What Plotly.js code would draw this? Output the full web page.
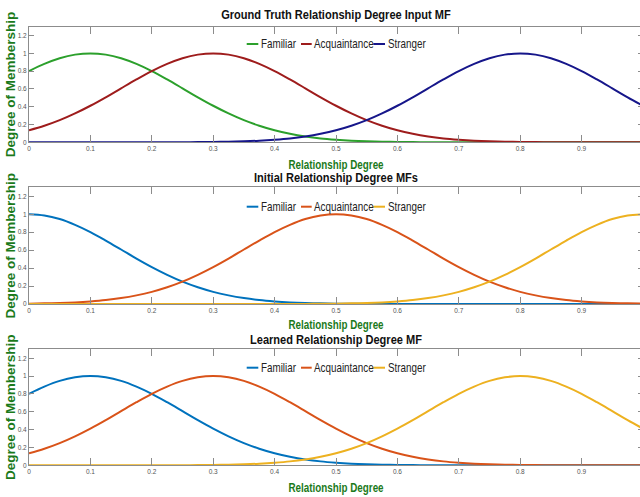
<!DOCTYPE html>
<html><head><meta charset="utf-8">
<script src="https://cdn.plot.ly/plotly-3.0.1.min.js"></script>
<style>html,body{margin:0;padding:0;overflow:hidden;background:#fff}#chart{width:643px;height:497px}</style>
</head><body><div id="chart"></div>
<script>
// ---------- DATA ----------
const xValues = [0,0.025,0.05,0.075,0.1,0.125,0.15,0.175,0.2,0.225,0.25,0.275,0.3,0.325,0.35,0.375,0.4,0.425,0.45,0.475,0.5,0.525,0.55,0.575,0.6,0.625,0.65,0.675,0.7,0.725,0.75,0.775,0.8,0.825,0.85,0.875,0.9,0.925,0.95,0.975,1];

const seriesNames = ["Familiar","Acquaintance","Stranger"];
const panelTitles = ["Ground Truth Relationship Degree Input MF","Initial Relationship Degree MFs","Learned Relationship Degree MF"];
const xAxisTitle = "Relationship Degree";
const yAxisTitle = "Degree of Membership";

const truthFamiliar = [0.801,0.882,0.946,0.986,1,0.986,0.946,0.882,0.801,0.707,0.607,0.506,0.411,0.325,0.249,0.186,0.135,0.096,0.066,0.044,0.029,0.018,0.011,0.007,0.004,0.002,0.001,0,0,0,0,0,0,0,0,0,0,0,0,0,0];
const truthAcquaintance = [0.135,0.186,0.249,0.325,0.411,0.506,0.607,0.707,0.801,0.882,0.946,0.986,1,0.986,0.946,0.882,0.801,0.707,0.607,0.506,0.411,0.325,0.249,0.186,0.135,0.096,0.066,0.044,0.029,0.018,0.011,0.007,0.004,0.002,0.001,0,0,0,0,0,0];
const truthStranger = [0,0,0,0,0,0,0,0,0,0,0.001,0.002,0.004,0.007,0.011,0.018,0.029,0.044,0.066,0.096,0.135,0.186,0.249,0.325,0.411,0.506,0.607,0.707,0.801,0.882,0.946,0.986,1,0.986,0.946,0.882,0.801,0.707,0.607,0.506,0.411];

const initialFamiliar = [1,0.986,0.946,0.882,0.801,0.707,0.607,0.506,0.411,0.325,0.249,0.186,0.135,0.096,0.066,0.044,0.029,0.018,0.011,0.007,0.004,0.002,0.001,0,0,0,0,0,0,0,0,0,0,0,0,0,0,0,0,0,0];
const initialAcquaintance = [0.004,0.007,0.011,0.018,0.029,0.044,0.066,0.096,0.135,0.186,0.249,0.325,0.411,0.506,0.607,0.707,0.801,0.882,0.946,0.986,1,0.986,0.946,0.882,0.801,0.707,0.607,0.506,0.411,0.325,0.249,0.186,0.135,0.096,0.066,0.044,0.029,0.018,0.011,0.007,0.004];
const initialStranger = [0,0,0,0,0,0,0,0,0,0,0,0,0,0,0,0,0,0,0.001,0.002,0.004,0.007,0.011,0.018,0.029,0.044,0.066,0.096,0.135,0.186,0.249,0.325,0.411,0.506,0.607,0.707,0.801,0.882,0.946,0.986,1];

const learnedFamiliar = [0.801,0.882,0.946,0.986,1,0.986,0.946,0.882,0.801,0.707,0.607,0.506,0.411,0.325,0.249,0.186,0.135,0.096,0.066,0.044,0.029,0.018,0.011,0.007,0.004,0.002,0.001,0,0,0,0,0,0,0,0,0,0,0,0,0,0];
const learnedAcquaintance = [0.135,0.186,0.249,0.325,0.411,0.506,0.607,0.707,0.801,0.882,0.946,0.986,1,0.986,0.946,0.882,0.801,0.707,0.607,0.506,0.411,0.325,0.249,0.186,0.135,0.096,0.066,0.044,0.029,0.018,0.011,0.007,0.004,0.002,0.001,0,0,0,0,0,0];
const learnedStranger = [0,0,0,0,0,0,0,0,0,0,0.001,0.002,0.004,0.007,0.011,0.018,0.029,0.044,0.066,0.096,0.135,0.186,0.249,0.325,0.411,0.506,0.607,0.707,0.801,0.882,0.946,0.986,1,0.986,0.946,0.882,0.801,0.707,0.607,0.506,0.411];

// ---------- STYLE ----------
const W = 643, H = 497, ML = 29;
const SANS = '"Liberation Sans",Arial,sans-serif';
const GREEN_TXT = '#1b7a1b';
const AXC = '#8c8c8c';
const CONDENSE = 0.82; // emulate a narrow face
const panelColors = [
  ['#2ca02c','#9e1c1c','#16168a'],
  ['#0072BD','#D95319','#EDB120'],
  ['#0072BD','#D95319','#EDB120']
];
const panelSeries = [
  [truthFamiliar, truthAcquaintance, truthStranger],
  [initialFamiliar, initialAcquaintance, initialStranger],
  [learnedFamiliar, learnedAcquaintance, learnedStranger]
];
// pixel geometry (page px)
const panelTopPx = [26.7, 187.3, 349.3];
const panelBotPx = [142.3, 304, 465.3];
const titleYPx = [15, 177.5, 339.5];
const xTitleStandoff = [9, 7.5, 9];
const legendYPx = [44, 206.7, 367.7];
const legendLinePx = [[246.7,258.3],[301,311.7],[373.3,385]];
const legendTextPx = [260, 313, 387];
const yTitleShiftPx = 3;

const px2x = p => (p - ML) / (W - ML);
const py2y = p => (H - p) / H;

const traces = [];
const layout = {
  width: W, height: H,
  margin: {l: ML, r: 0, t: 0, b: 0, pad: 0},
  paper_bgcolor: '#fff', plot_bgcolor: '#fff',
  showlegend: false,
  annotations: [], shapes: []
};

for (let p = 0; p < 3; p++) {
  const sfx = p === 0 ? '' : String(p + 1);
  for (let s = 0; s < 3; s++) {
    traces.push({
      type: 'scatter', mode: 'lines', name: seriesNames[s],
      x: xValues, y: panelSeries[p][s],
      xaxis: 'x' + sfx, yaxis: 'y' + sfx,
      line: {color: panelColors[p][s], width: 2, shape: 'spline', smoothing: 1},
      hoverinfo: 'x+y+name'
    });
  }
  const base = {
    linecolor: AXC, linewidth: 1, mirror: 'ticks', ticks: 'inside', tickcolor: AXC,
    showgrid: false, zeroline: false, fixedrange: true,
    tickfont: {family: SANS, size: 6.5, color: '#555'}
  };
  layout['xaxis' + sfx] = Object.assign({}, base, {
    domain: [0, 1], range: [0, 1], tick0: 0, dtick: 0.1, ticklen: 7,
    anchor: 'y' + sfx,
    title: {text: '<b>' + xAxisTitle + '</b>', standoff: xTitleStandoff[p], font: {family: SANS, size: 12, color: GREEN_TXT}}
  });
  layout['yaxis' + sfx] = Object.assign({}, base, {
    domain: [py2y(panelBotPx[p]), py2y(panelTopPx[p])], range: [0, 1.3], tick0: 0, dtick: 0.2, ticklen: 5,
    anchor: 'x' + sfx,
    title: {text: '<b>' + yAxisTitle + '</b>', standoff: 3, font: {family: SANS, size: 13.5, color: GREEN_TXT}}
  });
  layout.annotations.push({
    xref: 'paper', yref: 'paper', x: 0.5, y: py2y(titleYPx[p]), xanchor: 'center', yanchor: 'middle',
    text: '<b>' + panelTitles[p] + '</b>', showarrow: false, borderpad: 0,
    font: {family: SANS, size: 13.5, color: '#111'}
  });
  for (let s = 0; s < 3; s++) {
    layout.shapes.push({
      type: 'line', xref: 'paper', yref: 'paper',
      x0: px2x(legendLinePx[s][0]), x1: px2x(legendLinePx[s][1]),
      y0: py2y(legendYPx[p]), y1: py2y(legendYPx[p]),
      line: {color: panelColors[p][s], width: 2}
    });
    layout.annotations.push({
      xref: 'paper', yref: 'paper', x: px2x(legendTextPx[s]), y: py2y(legendYPx[p]),
      xanchor: 'left', yanchor: 'middle', align: 'left', text: seriesNames[s], showarrow: false,
      borderpad: 0, font: {family: SANS, size: 12, color: '#222'}
    });
  }
}

// horizontally condense a text element: 'left' keeps left edge, 'center' keeps center
function condense(el, k, mode, targetX) {
  const bb = el.getBBox();
  let shift;
  if (targetX !== undefined) shift = targetX - k * (bb.x + bb.width / 2);
  else if (mode === 'left') shift = bb.x * (1 - k);
  else shift = (bb.x + bb.width / 2) * (1 - k);
  const prev = el.getAttribute('transform') || '';
  el.setAttribute('transform', (prev + ' translate(' + shift + ',0) scale(' + k + ',1)').trim());
}

Plotly.newPlot('chart', traces, layout, {displayModeBar: false, staticPlot: true}).then(function () {
  const root = document.getElementById('chart');
  const svg = root.querySelector('svg.main-svg');
  root.querySelectorAll('.annotation').forEach(function (g) {
    const t = g.querySelector('text.annotation-text');
    if (!t) return;
    const txt = t.textContent;
    if (panelTitles.indexOf(txt) >= 0) {
      const ctm = t.getScreenCTM();
      const scr = svg.getScreenCTM();
      const pageCenter = ML + (W - ML) / 2;
      condense(t, CONDENSE, 'center', pageCenter - (ctm.e - scr.e));
    } else {
      condense(t, CONDENSE, 'left');
    }
  });
  ['xtitle', 'x2title', 'x3title'].forEach(function (c) {
    const t = root.querySelector('text.' + c);
    if (t) condense(t, CONDENSE, 'center');
  });
  ['ytitle', 'y2title', 'y3title'].forEach(function (c) {
    const t = root.querySelector('text.' + c);
    if (t) {
      const prev = t.getAttribute('transform') || '';
      t.setAttribute('transform', ('translate(' + yTitleShiftPx + ',0) ' + prev).trim());
    }
  });
});
</script></body></html>
